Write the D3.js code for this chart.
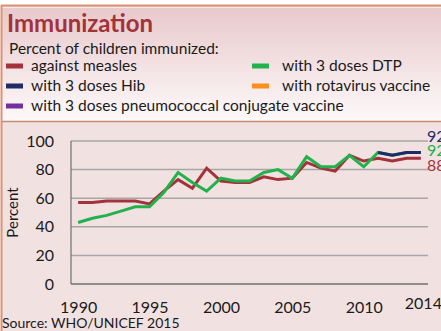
<!DOCTYPE html>
<html>
<head>
<meta charset="utf-8">
<script src="https://cdn.jsdelivr.net/npm/d3@7"></script>
<style>
  html, body { margin: 0; padding: 0; background: #ffffff; }
  svg { display: block; font-family: Lato, "Open Sans", sans-serif; }
</style>
</head>
<body>
<svg id="chart" width="441" height="331"></svg>
<script>
// Immunization coverage, percent of children
const years = d3.range(1990, 2015);
const measles = [57, 57, 58, 58, 58, 56, 65, 73, 67, 81, 72, 71, 71, 75, 73, 74, 85, 81, 79, 90, 86, 88, 86, 88, 88];
const dtp     = [43, 46, 48, 51, 54, 54, 64, 78, 71, 65, 74, 72, 72, 78, 80, 74, 89, 82, 82, 90, 82, 92, 90, 92, 92];
const hib     = [null, null, null, null, null, null, null, null, null, null, null, null, null, null, null, null, null, null, null, null, null, 92, 90, 92, 92];
const pcv     = [];
const rota    = [];
const yTicks = [0, 20, 40, 60, 80, 100];
const xTickYears = [1990, 1995, 2000, 2005, 2010, 2014];

const colors = {
  measles: "#a3323a",
  hib: "#1f2a68",
  pcv: "#7132a0",
  dtp: "#22b24c",
  rota: "#f7901e"
};

const legendItems = [
  { label: "against measles", color: colors.measles, col: 0, row: 0 },
  { label: "with 3 doses Hib", color: colors.hib, col: 0, row: 1 },
  { label: "with 3 doses pneumococcal conjugate vaccine", color: colors.pcv, col: 0, row: 2 },
  { label: "with 3 doses DTP", color: colors.dtp, col: 1, row: 0 },
  { label: "with rotavirus vaccine", color: colors.rota, col: 1, row: 1 }
];

const svg = d3.select("#chart");

// ---- panels ----
const defs = svg.append("defs");
const grad = defs.append("linearGradient").attr("id", "hdr").attr("x1", 0).attr("y1", 0).attr("x2", 0).attr("y2", 1);
grad.append("stop").attr("offset", "0%").attr("stop-color", "#e8c8cb");
grad.append("stop").attr("offset", "100%").attr("stop-color", "#fdf9f9");

svg.append("rect").attr("x", 2).attr("y", 6).attr("width", 439).attr("height", 115).attr("fill", "url(#hdr)");
svg.append("rect").attr("x", 2).attr("y", 121).attr("width", 439).attr("height", 210).attr("fill", "#f2e1e1");
// borders
svg.append("line").attr("x1", 1).attr("x2", 441).attr("y1", 5.5).attr("y2", 5.5).attr("stroke", "#dd9273").attr("stroke-width", 2);
svg.append("line").attr("x1", 2).attr("x2", 441).attr("y1", 7.5).attr("y2", 7.5).attr("stroke", "#fbeae6").attr("stroke-width", 1);
svg.append("line").attr("x1", 1.5).attr("x2", 1.5).attr("y1", 5).attr("y2", 331).attr("stroke", "#dd9273").attr("stroke-width", 2);
svg.append("line").attr("x1", 2).attr("x2", 441).attr("y1", 121.5).attr("y2", 121.5).attr("stroke", "#c78a75").attr("stroke-width", 1.5);

// ---- header ----
svg.append("text").attr("x", 7).attr("y", 32)
  .attr("font-size", 24).attr("font-weight", "bold").attr("fill", "#a3323a")
  .text("Immunization");
svg.append("text").attr("x", 9).attr("y", 54)
  .attr("font-size", 15.5).attr("fill", "#1a1a1a")
  .text("Percent of children immunized:");

const legend = svg.append("g");
const colX = [6, 252];
const rowY = [66, 86, 106];
legendItems.forEach(d => {
  legend.append("rect")
    .attr("x", colX[d.col]).attr("y", rowY[d.row] - 2.5)
    .attr("width", 17).attr("height", 5)
    .attr("fill", d.color);
  legend.append("text")
    .attr("x", colX[d.col] + (d.col === 0 ? 25 : 30)).attr("y", rowY[d.row] + 5)
    .attr("font-size", 15.5).attr("fill", "#1a1a1a")
    .text(d.label);
});

// ---- plot ----
const x = d3.scalePoint().domain(years).range([71, 428]).padding(0.5);
const y = d3.scaleLinear().domain([0, 100]).range([284, 141]);

// gridlines
svg.append("g")
  .selectAll("line").data(yTicks.filter(t => t > 0)).join("line")
  .attr("x1", 71).attr("x2", 428)
  .attr("y1", d => y(d)).attr("y2", d => y(d))
  .attr("stroke", "#a6a6a6").attr("stroke-width", 1.5);

// axes lines
svg.append("line").attr("x1", 71).attr("x2", 428).attr("y1", y(0)).attr("y2", y(0))
  .attr("stroke", "#707070").attr("stroke-width", 1.5);
svg.append("line").attr("x1", 71).attr("x2", 71).attr("y1", y(100)).attr("y2", y(0))
  .attr("stroke", "#707070").attr("stroke-width", 1.2);

// y tick labels
const yAxis = d3.axisLeft(y).tickValues(yTicks).tickSize(0).tickPadding(17);
const gy = svg.append("g").attr("transform", "translate(71,0)").call(yAxis);
gy.select(".domain").remove();
gy.selectAll("text").attr("font-size", 16).attr("fill", "#1a1a1a").attr("font-family", "Lato, sans-serif");

// x tick labels
const xAxis = d3.axisBottom(x).tickValues(xTickYears).tickSize(0).tickPadding(18);
const gx = svg.append("g").attr("transform", `translate(0,${y(0)})`).call(xAxis);
gx.select(".domain").remove();
gx.selectAll("text").attr("font-size", 16).attr("fill", "#1a1a1a").attr("font-family", "Lato, sans-serif")
  .attr("dy", d => d === 2014 ? "0.45em" : "0.71em")
  .attr("dx", d => d === 2014 ? 2 : 0);

// y axis title
svg.append("text")
  .attr("transform", `translate(18,${(y(0) + y(100)) / 2}) rotate(-90)`)
  .attr("text-anchor", "middle")
  .attr("font-size", 15).attr("fill", "#1a1a1a")
  .text("Percent");

// series lines
const line = d3.line()
  .defined(d => d.v != null)
  .x(d => x(d.year))
  .y(d => y(d.v));

const series = [
  { key: "measles", values: measles, color: colors.measles },
  { key: "dtp", values: dtp, color: colors.dtp },
  { key: "hib", values: hib, color: colors.hib }
];

svg.append("g").selectAll("path").data(series).join("path")
  .attr("d", s => line(years.map((yr, i) => ({ year: yr, v: s.values[i] }))))
  .attr("fill", "none")
  .attr("stroke", s => s.color)
  .attr("stroke-width", 3)
  .attr("stroke-linejoin", "miter");

// end-of-line value labels
const last = years.length - 1;
const endLabels = [
  { v: hib[last], color: colors.hib, dy: -10 },
  { v: dtp[last], color: colors.dtp, dy: 4 },
  { v: measles[last], color: colors.measles, dy: 13 }
];
svg.append("g").selectAll("text").data(endLabels).join("text")
  .attr("x", 427)
  .attr("y", d => y(d.v) + d.dy)
  .attr("font-size", 16)
  .attr("fill", d => d.color)
  .text(d => d.v);

// source note
svg.append("text").attr("x", 2).attr("y", 328)
  .attr("font-size", 14).attr("fill", "#1a1a1a")
  .text("Source: WHO/UNICEF 2015");
</script>
</body>
</html>
